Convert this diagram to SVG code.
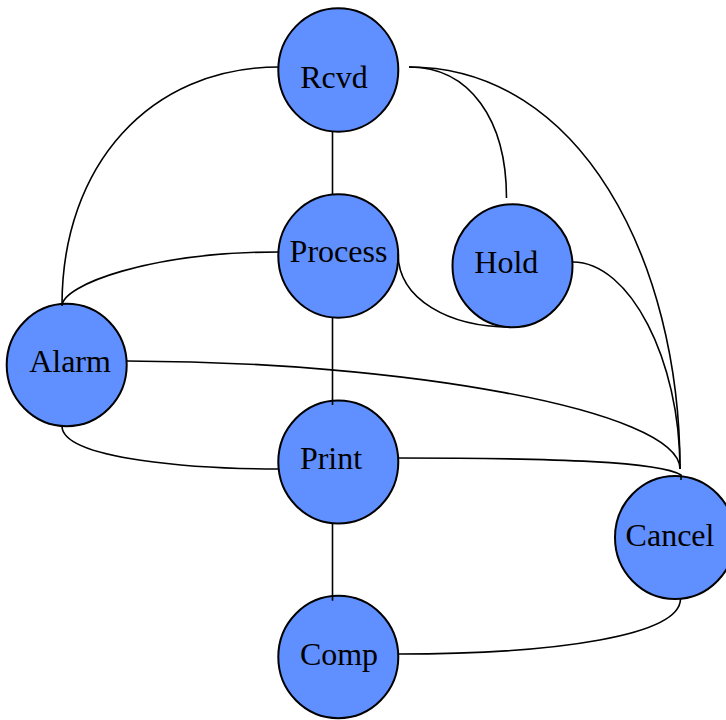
<svg xmlns="http://www.w3.org/2000/svg" width="726" height="720" viewBox="0 0 726 720">
  <style>
    .node ellipse { fill: #608fff; stroke: #000; stroke-width: 2; }
    .node text { font-family: "Liberation Serif", "Times New Roman", serif; font-size: 32px; fill: #000; text-anchor: middle; }
    #edges path { fill: none; stroke: #000; stroke-width: 1.6; }
  </style>
  <rect width="726" height="720" fill="#fff"/>

  <g id="nodes">
    <g id="node-rcvd" class="node">
      <ellipse cx="338.3" cy="70" rx="60" ry="61.7"/>
      <text x="334" y="88.3">Rcvd</text>
    </g>
    <g id="node-process" class="node">
      <ellipse cx="338.3" cy="256" rx="60" ry="61.7"/>
      <text x="338.5" y="262.3">Process</text>
    </g>
    <g id="node-hold" class="node">
      <ellipse cx="512.5" cy="265.8" rx="60" ry="61.5"/>
      <text x="506.3" y="273.3">Hold</text>
    </g>
    <g id="node-alarm" class="node">
      <ellipse cx="66.7" cy="365" rx="60" ry="61.2"/>
      <text x="70" y="371.7">Alarm</text>
    </g>
    <g id="node-print" class="node">
      <ellipse cx="338.3" cy="462" rx="60" ry="61.5"/>
      <text x="331" y="469">Print</text>
    </g>
    <g id="node-cancel" class="node">
      <ellipse cx="675" cy="537.5" rx="60" ry="61.5"/>
      <text x="670" y="546">Cancel</text>
    </g>
    <g id="node-comp" class="node">
      <ellipse cx="338.3" cy="657" rx="60" ry="61.2"/>
      <text x="339" y="665">Comp</text>
    </g>
  </g>

  <g id="edges">
    <!-- straight spine -->
    <path d="M332.5,132 L332.5,194"/>
    <path d="M332.5,318 L332.5,405"/>
    <path d="M332.5,523 L332.5,600.7"/>
    <!-- Rcvd links -->
    <path d="M279,67 C150,67 62,165 62,305"/>
    <path d="M409,67 C470,67 506.5,120 506.5,198"/>
    <path d="M409,67 C580,67 680,260 680,469"/>
    <!-- Process links -->
    <path d="M279,252 C150,252 62,285 62,306"/>
    <path d="M398,253 C398,300 450,327 510,327"/>
    <!-- Hold to Cancel -->
    <path d="M572.7,262 C630,262 680,360 680,469"/>
    <!-- Alarm links -->
    <path d="M126.5,361 C400,361 680,410 680,469"/>
    <path d="M62,426 C62,460 200,469 278,469"/>
    <!-- Print to Cancel -->
    <path d="M398.5,458 C560,458 660,462 681,475 L681,480"/>
    <!-- Cancel to Comp -->
    <path d="M680.5,599 C680,635 560,654 398,654"/>
  </g>
</svg>
